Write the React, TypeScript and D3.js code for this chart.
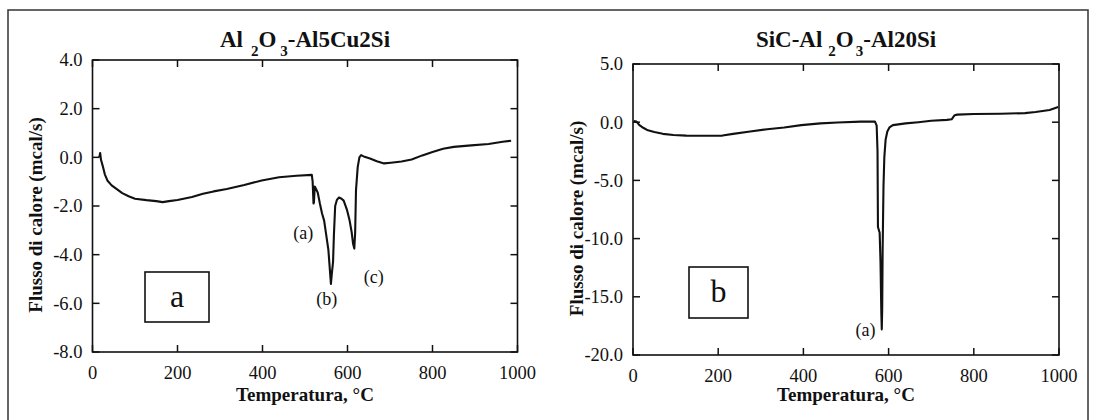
import React from "react";
import * as d3 from "d3";

// ---------- DATA ----------
const xTicks = [0, 200, 400, 600, 800, 1000];
const yTicksA = [4, 2, 0, -2, -4, -6, -8];
const yTicksB = [5, 0, -5, -10, -15, -20];

// Panel a: Al2O3-Al5Cu2Si  (temperature °C, heat flow mcal/s)
const tempA = [16, 18, 20, 24, 29, 35, 45, 58, 70, 85, 100, 127, 150, 165, 180, 200, 234, 260, 285, 316, 357, 398, 439, 480, 516, 518, 520, 521, 523, 526, 530, 535, 540, 545, 550, 555, 558, 561, 563, 566, 568, 571, 575, 580, 586, 591, 599, 605, 610, 613, 616, 618, 620, 624, 628, 632, 640, 653, 669, 686, 702, 727, 751, 776, 800, 825, 850, 891, 932, 965, 985];
const flowA = [0.0, 0.18, -0.1, -0.35, -0.7, -0.95, -1.15, -1.32, -1.47, -1.6, -1.7, -1.76, -1.8, -1.84, -1.8, -1.75, -1.63, -1.5, -1.4, -1.3, -1.14, -0.95, -0.82, -0.76, -0.72, -1.0, -1.9, -1.85, -1.2, -1.3, -1.45, -1.9, -2.3, -2.6, -3.2, -3.8, -4.5, -5.2, -4.8, -4.3, -3.2, -2.0, -1.75, -1.65, -1.7, -1.78, -2.17, -2.6, -3.1, -3.54, -3.75, -3.1, -1.35, -0.4, 0.0, 0.09, 0.02, -0.05, -0.16, -0.25, -0.22, -0.17, -0.09, 0.08, 0.22, 0.35, 0.43, 0.49, 0.55, 0.64, 0.68];

// Panel b: SiC-Al2O3-Al20Si
const tempB = [2, 8, 15, 25, 35, 50, 70, 95, 125, 170, 210, 235, 275, 315, 355, 395, 440, 480, 535, 568, 572, 574, 575, 579, 581, 583, 584, 585, 586, 588, 590, 593, 597, 602, 610, 640, 670, 700, 737, 748, 755, 761, 800, 863, 920, 945, 978, 998];
const flowB = [0.1, 0.05, -0.25, -0.5, -0.7, -0.85, -1.0, -1.1, -1.15, -1.17, -1.15, -1.0, -0.8, -0.6, -0.45, -0.25, -0.1, -0.02, 0.05, 0.05, -0.3, -2.5, -9.0, -9.5, -12, -16.5, -17.8, -16, -11, -5.5, -3.0, -1.5, -0.8, -0.45, -0.25, -0.1, 0.0, 0.12, 0.2, 0.25, 0.6, 0.65, 0.7, 0.72, 0.78, 0.87, 1.05, 1.3];

const FONT = "Liberation Serif, Tinos, Times New Roman, DejaVu Serif, Noto Serif, serif";

type Note = { t: number; v: number; label: string };
const notesA: Note[] = [
  { t: 496, v: -3.1, label: "(a)" },
  { t: 551, v: -5.8, label: "(b)" },
  { t: 662, v: -4.9, label: "(c)" },
];
const notesB: Note[] = [{ t: 546, v: -17.8, label: "(a)" }];

type PanelProps = {
  x0: number; x1: number; y0: number; y1: number;
  yDomain: [number, number];
  yTicks: number[];
  temps: number[];
  flows: number[];
  titleParts: { main1: string; tail: string; gap1: number; gap2: number };
  box: { x: number; y: number; w: number; h: number; letter: string };
  notes: Note[];
};

function Panel(p: PanelProps) {
  const x = d3.scaleLinear().domain([0, 1000]).range([p.x0, p.x1]);
  const y = d3.scaleLinear().domain(p.yDomain).range([p.y1, p.y0]);
  const pts = p.temps.map((t, i) => [t, p.flows[i]] as [number, number]);
  const line = d3.line<[number, number]>().x((d) => x(d[0])).y((d) => y(d[1]));
  const tick = 7;
  const cx = (p.x0 + p.x1) / 2;
  const cy = (p.y0 + p.y1) / 2;
  const txt = { fontFamily: FONT, fill: "#111" } as const;
  return (
    <g>
      {/* title */}
      <text x={cx} y={47} textAnchor="middle" {...txt} fontWeight="bold" fontSize={23}>
        <tspan>{p.titleParts.main1}</tspan>
        <tspan dx={p.titleParts.gap1} dy={9} fontSize={15}>2</tspan>
        <tspan dy={-9}>O</tspan>
        <tspan dx={p.titleParts.gap2} dy={9} fontSize={15}>3</tspan>
        <tspan dy={-9}>{p.titleParts.tail}</tspan>
      </text>
      {/* curve */}
      <path d={line(pts) || ""} fill="none" stroke="#111" strokeWidth={2.1} strokeLinejoin="round" />
      {/* frame */}
      <rect x={p.x0} y={p.y0} width={p.x1 - p.x0} height={p.y1 - p.y0} fill="none" stroke="#111" strokeWidth={1.6} />
      {/* x ticks */}
      {xTicks.map((t) => (
        <g key={"x" + t}>
          <line x1={x(t)} x2={x(t)} y1={p.y1} y2={p.y1 - tick} stroke="#111" strokeWidth={1.5} />
          <line x1={x(t)} x2={x(t)} y1={p.y0} y2={p.y0 + tick} stroke="#111" strokeWidth={1.5} />
          <text x={x(t)} y={p.y1 + 27} textAnchor="middle" {...txt} fontSize={18.5}>{t}</text>
        </g>
      ))}
      {/* y ticks */}
      {p.yTicks.map((v) => (
        <g key={"y" + v}>
          <line x1={p.x0} x2={p.x0 + tick} y1={y(v)} y2={y(v)} stroke="#111" strokeWidth={1.5} />
          <line x1={p.x1} x2={p.x1 - tick} y1={y(v)} y2={y(v)} stroke="#111" strokeWidth={1.5} />
          <text x={p.x0 - 10} y={y(v)} dy="0.35em" textAnchor="end" {...txt} fontSize={18.5}>{v.toFixed(1)}</text>
        </g>
      ))}
      {/* axis titles */}
      <text x={cx} y={401} textAnchor="middle" {...txt} fontWeight="bold" fontSize={19}>Temperatura, °C</text>
      <text transform={`translate(${p.x0 - 57},${cy + 9}) rotate(-90)`} dy="0.35em" textAnchor="middle" {...txt} fontWeight="bold" fontSize={19}>Flusso di calore (mcal/s)</text>
      {/* box label */}
      <rect x={p.box.x} y={p.box.y} width={p.box.w} height={p.box.h} fill="none" stroke="#111" strokeWidth={1.6} />
      <text x={p.box.x + p.box.w / 2} y={p.box.y + p.box.h / 2} dy="0.3em" textAnchor="middle" {...txt} fontSize={32}>{p.box.letter}</text>
      {/* annotations */}
      {p.notes.map((n) => (
        <text key={n.label} x={x(n.t)} y={y(n.v)} dy="0.35em" textAnchor="middle" {...txt} fontSize={18}>{n.label}</text>
      ))}
    </g>
  );
}

export default function App() {
  return (
    <>
      <style>{`body{margin:0;background:#fff}`}</style>
      <svg width={1094} height={420} style={{ display: "block", fontFamily: FONT }}>
        <rect x={0} y={0} width={1094} height={420} fill="#fff" />
        <rect x={8} y={10} width={1080} height={430} fill="none" stroke="#333" strokeWidth={1.5} />
        <Panel
          x0={92.5} x1={517.5} y0={60} y1={352}
          yDomain={[-8, 4]} yTicks={yTicksA}
          temps={tempA} flows={flowA}
          titleParts={{ main1: "Al", tail: "-Al5Cu2Si", gap1: 8, gap2: 4 }}
          box={{ x: 145, y: 272, w: 64, h: 50, letter: "a" }}
          notes={notesA}
        />
        <Panel
          x0={633} x1={1059} y0={64} y1={355}
          yDomain={[-20, 5]} yTicks={yTicksB}
          temps={tempB} flows={flowB}
          titleParts={{ main1: "SiC-Al", tail: "-Al20Si", gap1: 6, gap2: 2 }}
          box={{ x: 689, y: 267, w: 59, h: 51, letter: "b" }}
          notes={notesB}
        />
      </svg>
    </>
  );
}
